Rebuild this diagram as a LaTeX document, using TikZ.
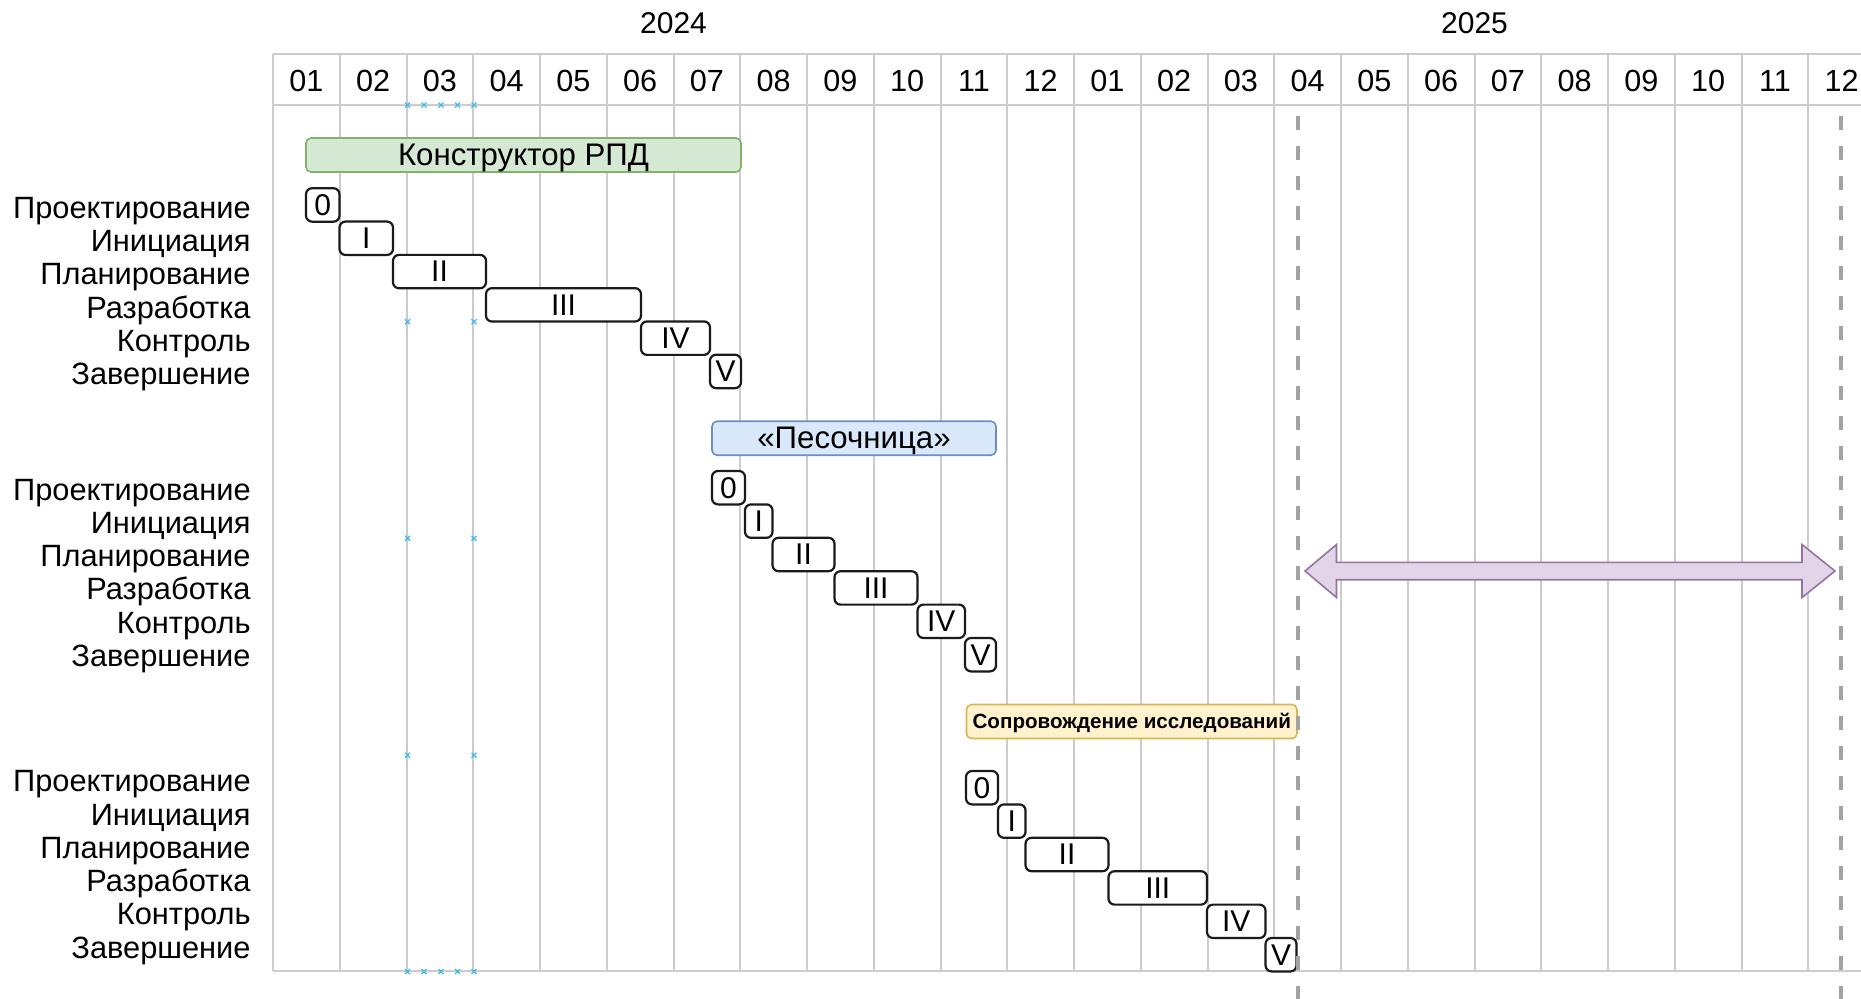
\documentclass[tikz,border=0pt]{standalone}
\usepackage{fontspec}
\setmainfont{Liberation Sans}
\definecolor{gridgray}{HTML}{CCCCCC}
\definecolor{cutgray}{HTML}{A3A3A3}
\definecolor{boxline}{HTML}{1A1A1A}
\definecolor{greenfill}{HTML}{D5E8D4}
\definecolor{greenline}{HTML}{82B366}
\definecolor{bluefill}{HTML}{DAE8FC}
\definecolor{blueline}{HTML}{6C8EBF}
\definecolor{yellowfill}{HTML}{FFF2CC}
\definecolor{yellowline}{HTML}{D6B656}
\definecolor{violetfill}{HTML}{E1D5E7}
\definecolor{violetline}{HTML}{9673A6}
\definecolor{markblue}{HTML}{3DB8F0}
\begin{document}
\begin{tikzpicture}[x=0.5pt,y=-0.5pt,
  gridline/.style={draw=gridgray,line width=1pt},
  cutline/.style={draw=cutgray,line width=2pt,dash pattern=on 7pt off 8pt},
  monthlabel/.style={anchor=base,inner sep=0pt,font=\fontsize{15.3}{18}\selectfont},
  yearlabel/.style={anchor=base,inner sep=0pt,font=\fontsize{15}{18}\selectfont},
  rowlabel/.style={anchor=base east,inner sep=0pt,font=\fontsize{15.4}{18}\selectfont},
  phasebox/.style={draw=boxline,fill=white,line width=1.1pt,rounded corners=3pt,
    inner sep=0pt,minimum height=16.7pt,font=\fontsize{15}{18}\selectfont},
  bar/.style={line width=0.8pt,rounded corners=2.5pt,inner sep=0pt,minimum height=17pt,
    text height=10.2pt,text depth=0pt,font=\fontsize{15.6}{18}\selectfont},
  guidemark/.style={draw=markblue,line width=0.6pt},
  spanarrow/.style={draw=violetline,fill=violetfill,line width=0.8pt,line join=miter}]

\useasboundingbox (0,0) rectangle (1861,998);

% month grid
\foreach \k in {0,...,23}
  \draw[gridline] ({273+66.75*\k},54) -- ({273+66.75*\k},971);
\draw[gridline] (273,54) -- (1870,54);
\draw[gridline] (273,105) -- (1870,105);
\draw[gridline] (273,971) -- (1870,971);

% year and month headings
\node[yearlabel] (y2024) at (673.5,33.3) {2024};
\node[yearlabel] (y2025) at (1474.5,33.3) {2025};
\foreach \m [count=\k from 0] in {01,02,03,04,05,06,07,08,09,10,11,12,01,02,03,04,05,06,07,08,09,10,11,12}
  \node[monthlabel] (m\k) at ({273+66.75*(\k+0.5)},91.7) {\m};

% small guide marks
\foreach \gx in {407.5,424,441,457.5,474} {
  \draw[guidemark] (\gx-2.5,105-2.5) -- (\gx+2.5,105+2.5) (\gx-2.5,105+2.5) -- (\gx+2.5,105-2.5);
  \draw[guidemark] (\gx-2.5,971.5-2.5) -- (\gx+2.5,971.5+2.5) (\gx-2.5,971.5+2.5) -- (\gx+2.5,971.5-2.5);
}
\foreach \gy in {321.7,538.3,755.3}
  \foreach \gx in {407.5,474}
    \draw[guidemark] (\gx-2.5,\gy-2.5) -- (\gx+2.5,\gy+2.5) (\gx-2.5,\gy+2.5) -- (\gx+2.5,\gy-2.5);

% row labels of the three projects
\foreach \t [count=\i from 0] in {Проектирование,Инициация,Планирование,Разработка,Контроль,Завершение} {
  \node[rowlabel] (pa\i) at (251,{218.3+33.3*\i}) {\t};
  \node[rowlabel] (pb\i) at (251,{500+33.3*\i}) {\t};
  \node[rowlabel] (pc\i) at (251,{791.7+33.3*\i}) {\t};
}

% project bars
\node[bar,draw=greenline,fill=greenfill,minimum width=217.5pt] (rpd) at (523.5,155) {Конструктор РПД};
\node[bar,draw=blueline,fill=bluefill,minimum width=142pt] (sandbox) at (854,438.25) {«Песочница»};
\node[bar,draw=yellowline,fill=yellowfill,minimum width=165.25pt,text height=7.3pt,
  font=\bfseries\fontsize{10.3}{12}\selectfont] (support) at (1131.75,721.5) {Сопровождение исследований};

% phases: Конструктор РПД
\node[phasebox,minimum width=16.75pt] (a0) at (322.75,204.95) {0};
\node[phasebox,minimum width=26.75pt] (a1) at (366.25,238.25) {I};
\node[phasebox,minimum width=46.5pt]  (a2) at (439.5,271.55) {II};
\node[phasebox,minimum width=77.5pt]  (a3) at (563.5,304.85) {III};
\node[phasebox,minimum width=34.5pt]  (a4) at (675.5,338.15) {IV};
\node[phasebox,minimum width=15.5pt]  (a5) at (725.5,371.45) {V};

% phases: «Песочница»
\node[phasebox,minimum width=16.5pt]  (b0) at (728.5,487.7) {0};
\node[phasebox,minimum width=13.75pt] (b1) at (758.75,521.1) {I};
\node[phasebox,minimum width=31pt]    (b2) at (803.5,554.5) {II};
\node[phasebox,minimum width=41.5pt]  (b3) at (876,587.9) {III};
\node[phasebox,minimum width=23.75pt] (b4) at (941.25,621.3) {IV};
\node[phasebox,minimum width=15.5pt]  (b5) at (980.5,654.7) {V};

% phases: Сопровождение исследований
\node[phasebox,minimum width=16pt]    (c0) at (982,787.7) {0};
\node[phasebox,minimum width=13.75pt] (c1) at (1011.75,821.1) {I};
\node[phasebox,minimum width=41.5pt]  (c2) at (1067,854.5) {II};
\node[phasebox,minimum width=49.25pt] (c3) at (1157.75,887.9) {III};
\node[phasebox,minimum width=29.25pt] (c4) at (1236.25,921.3) {IV};
\node[phasebox,minimum width=15.5pt]  (c5) at (1281,954.7) {V};

% period boundaries
\coordinate (cutA) at (1298,116);
\coordinate (cutAend) at (1298,1000);
\coordinate (cutB) at (1841,116);
\coordinate (cutBend) at (1841,1000);
\draw[cutline] (cutA) -- (cutAend);
\draw[cutline] (cutB) -- (cutBend);

% span between the boundaries
\draw[spanarrow] (1305,571) -- (1336.5,544.5) -- (1336.5,562.3) -- (1802,562.3)
  -- (1802,544.5) -- (1835,571) -- (1802,597.5) -- (1802,579.7)
  -- (1336.5,579.7) -- (1336.5,597.5) -- cycle;
\end{tikzpicture}
\end{document}
